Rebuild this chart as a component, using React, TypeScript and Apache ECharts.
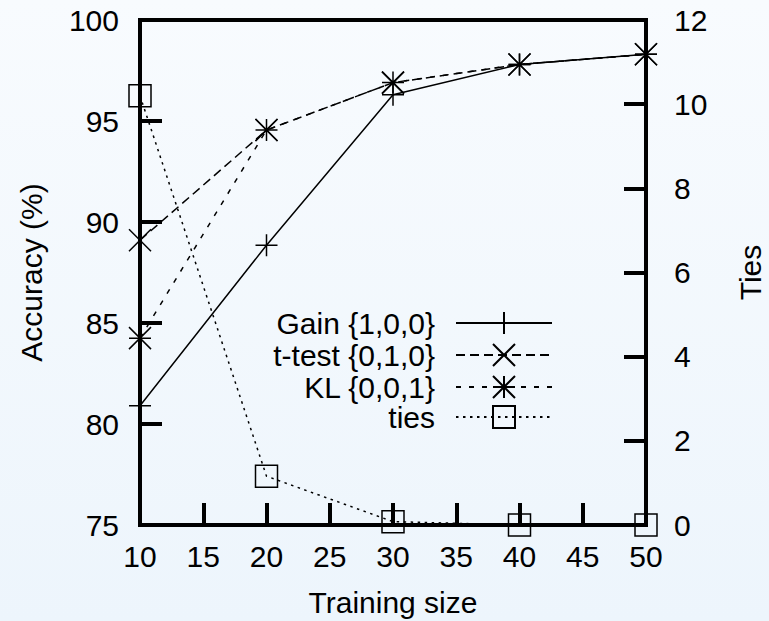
import React, { useEffect, useRef } from "react";
import * as echarts from "echarts";

const trainingSizes = [10, 20, 30, 40, 50];
const gainValues = [80.9, 88.85, 96.3, 97.8, 98.3];
const ttestValues = [89.1, 94.55, 96.9, 97.8, 98.3];
const klValues = [84.25, 94.55, 96.9, 97.8, 98.3];
const tiesValues = [10.2, 1.16, 0.08, 0, 0];

const seriesNames = ["Gain {1,0,0}", "t-test {0,1,0}", "KL {0,0,1}", "ties"];

const FONT = "'Liberation Sans', Arial, Helvetica, sans-serif";

const SYM_PLUS = "path://M0,11H22M11,0V22";
const SYM_CROSS = "path://M0,0L22,22M22,0L0,22";
const SYM_STAR = "path://M0,11H22M11,0V22M0,0L22,22M22,0L0,22";
const SYM_SQUARE = "path://M0,0H22V22H0Z";

export default function App() {
  const ref = useRef<HTMLDivElement>(null);

  useEffect(() => {
    if (!ref.current) return;
    const chart = echarts.init(ref.current, null, { renderer: "svg" });

    const pairs = (ys: number[]) => trainingSizes.map((x, i) => [x, ys[i]]);
    const markerStyle = { color: "none", borderColor: "#000", borderWidth: 1.5 };

    const mkSeries = (
      name: string,
      ys: number[],
      symbol: string,
      dash: any,
      yAxisIndex: number
    ) => ({
      name,
      type: "line",
      data: pairs(ys),
      yAxisIndex,
      symbol,
      symbolSize: 22,
      showAllSymbol: true,
      clip: false,
      lineStyle: { color: "#000", width: 1.5, type: dash },
      itemStyle: markerStyle,
      emphasis: { disabled: true },
    });

    const legendTops = [308, 340, 372, 402];
    const legends = seriesNames.map((n, i) => ({
      show: true,
      orient: "vertical",
      align: "right",
      right: 216,
      top: legendTops[i],
      padding: 0,
      itemWidth: 96,
      itemHeight: 27.5,
      selectedMode: false,
      data: [n],
      textStyle: {
        fontSize: 30,
        color: "#000",
        fontFamily: FONT,
        padding: [0, 16, 0, 0],
      },
    }));

    const axisLineStyle = { color: "#000", width: 4 };
    const labelStyle = { fontSize: 30, color: "#000", fontFamily: FONT };

    chart.setOption({
      animation: false,
      backgroundColor: new echarts.graphic.LinearGradient(0, 0, 0, 1, [
        { offset: 0, color: "#f8fbfe" },
        { offset: 1, color: "#edf5fc" },
      ]),
      textStyle: { fontFamily: FONT },
      grid: {
        left: 140,
        top: 20,
        width: 506,
        height: 505,
        containLabel: false,
        outerBoundsMode: "none",
        show: true,
        borderColor: "#000",
        borderWidth: 4,
        backgroundColor: "transparent",
      },
      legend: legends,
      xAxis: {
        type: "value",
        min: 10,
        max: 50,
        interval: 5,
        name: "Training size",
        nameLocation: "middle",
        nameGap: 62,
        nameTextStyle: labelStyle,
        axisLine: { show: true, lineStyle: axisLineStyle },
        axisTick: { show: true, inside: true, length: 22, lineStyle: axisLineStyle },
        axisLabel: { ...labelStyle, margin: 16 },
        splitLine: { show: false },
      },
      yAxis: [
        {
          type: "value",
          position: "left",
          min: 75,
          max: 100,
          interval: 5,
          name: "Accuracy (%)",
          nameLocation: "middle",
          nameRotate: 90,
          nameGap: 94,
          nameTextStyle: labelStyle,
          axisLine: { show: true, lineStyle: axisLineStyle },
          axisTick: { show: true, inside: true, length: 22, lineStyle: axisLineStyle },
          axisLabel: { ...labelStyle, margin: 21 },
          splitLine: { show: false },
        },
        {
          type: "value",
          position: "right",
          min: 0,
          max: 12,
          interval: 2,
          name: "Ties",
          nameLocation: "middle",
          nameRotate: 90,
          nameGap: 89,
          nameTextStyle: labelStyle,
          axisLine: { show: true, lineStyle: axisLineStyle },
          axisTick: { show: true, inside: true, length: 22, lineStyle: axisLineStyle },
          axisLabel: { ...labelStyle, margin: 28 },
          splitLine: { show: false },
        },
      ],
      series: [
        mkSeries(seriesNames[0], gainValues, SYM_PLUS, "solid", 0),
        mkSeries(seriesNames[1], ttestValues, SYM_CROSS, [9, 5], 0),
        mkSeries(seriesNames[2], klValues, SYM_STAR, [5, 8], 0),
        mkSeries(seriesNames[3], tiesValues, SYM_SQUARE, [2.5, 4.5], 1),
      ],
    });

    return () => chart.dispose();
  }, []);

  return (
    <div
      ref={ref}
      style={{ position: "fixed", left: 0, top: 0, width: 769, height: 621 }}
    />
  );
}
